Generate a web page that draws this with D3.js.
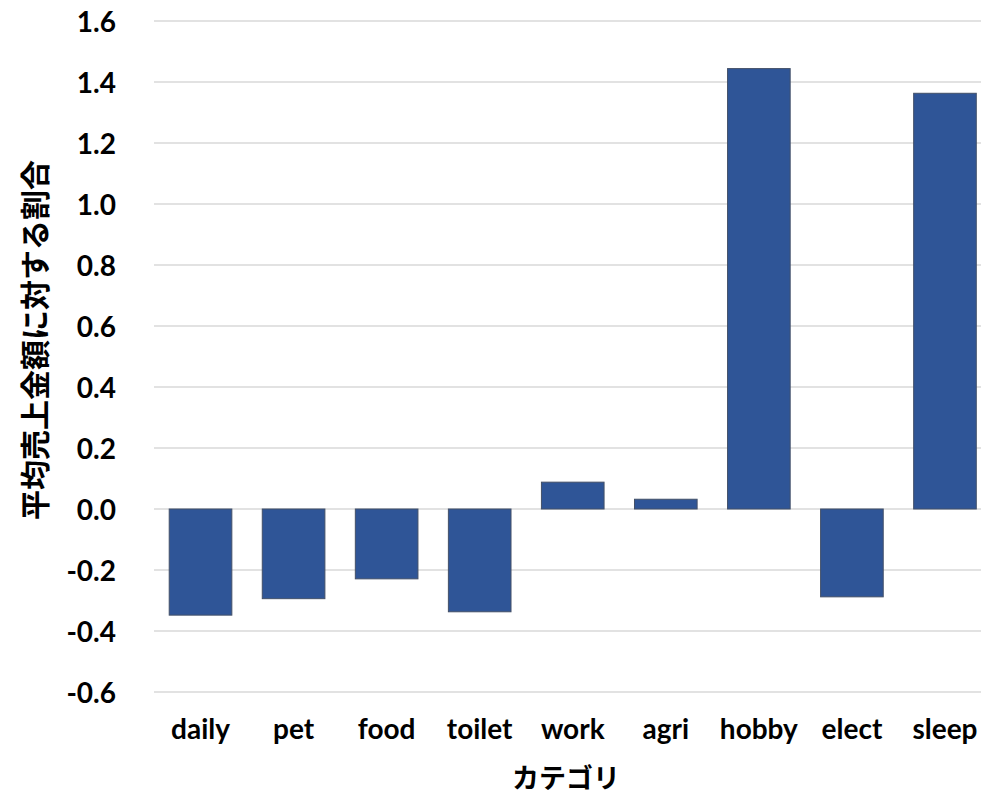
<!DOCTYPE html>
<html>
<head>
<meta charset="utf-8">
<script src="https://cdn.jsdelivr.net/npm/d3@7"></script>
<style>
  body { margin: 0; background: #fff; }
  svg { display: block; }
  .tick-label { font-family: Lato, "Noto Sans", sans-serif; font-weight: bold; font-size: 28px; fill: #000; }
  .axis-title { font-family: "Noto Sans CJK JP", sans-serif; font-weight: bold; font-size: 27px; fill: #000; }
</style>
</head>
<body>
<svg id="chart"></svg>
<script>
// Data
const categories = ['daily', 'pet', 'food', 'toilet', 'work', 'agri', 'hobby', 'elect', 'sleep'];
const values = [-0.348, -0.294, -0.229, -0.337, 0.088, 0.032, 1.444, -0.288, 1.363];
const yTicks = [-0.6, -0.4, -0.2, 0.0, 0.2, 0.4, 0.6, 0.8, 1.0, 1.2, 1.4, 1.6];
const xTitle = 'カテゴリ';
const yTitle = '平均売上金額に対する割合';

const width = 981, height = 796;

const svg = d3.select('#chart')
    .attr('width', width)
    .attr('height', height);

// Scales
const xScale = d3.scaleBand()
    .domain(categories)
    .range([154, 991.5])
    .paddingInner(0.327)
    .paddingOuter(0.1635);

const yScale = d3.scaleLinear()
    .domain([-0.6, 1.6])
    .range([692, 21]);

// Gridlines
svg.append('g')
    .selectAll('line')
    .data(yTicks)
    .join('line')
    .attr('x1', 154)
    .attr('x2', width)
    .attr('y1', d => yScale(d))
    .attr('y2', d => yScale(d))
    .attr('stroke', '#d9d9d9')
    .attr('stroke-width', 1.5);

// Y axis labels (plain hyphen for negatives, like the original)
const yAxis = d3.axisLeft(yScale)
    .tickValues(yTicks)
    .tickFormat(d => d.toFixed(1))
    .tickSize(0)
    .tickPadding(0);

const yAxisGroup = svg.append('g')
    .attr('transform', 'translate(116,0)')
    .call(yAxis);
yAxisGroup.select('.domain').remove();
yAxisGroup.selectAll('text')
    .attr('class', 'tick-label')
    .attr('font-family', null)
    .attr('font-size', null)
    .attr('dy', '0.36em');

// Bars
svg.append('g')
    .selectAll('rect')
    .data(categories.map((c, i) => ({ c, v: values[i] })))
    .join('rect')
    .attr('x', d => xScale(d.c))
    .attr('y', d => yScale(Math.max(0, d.v)))
    .attr('width', xScale.bandwidth())
    .attr('height', d => Math.abs(yScale(d.v) - yScale(0)))
    .attr('fill', '#2f5597')
    .attr('stroke', '#435068')
    .attr('stroke-width', 1);

// X axis labels
const xAxis = d3.axisBottom(xScale).tickSize(0).tickPadding(0);
const xAxisGroup = svg.append('g')
    .attr('transform', 'translate(0,719)')
    .call(xAxis);
xAxisGroup.select('.domain').remove();
xAxisGroup.selectAll('text')
    .attr('class', 'tick-label')
    .attr('font-family', null)
    .attr('font-size', null)
    .attr('dy', '0.71em');

// Axis titles
svg.append('text')
    .attr('class', 'axis-title')
    .attr('x', 566)
    .attr('y', 776)
    .attr('text-anchor', 'middle')
    .attr('dominant-baseline', 'central')
    .text(xTitle);

svg.append('text')
    .attr('class', 'axis-title')
    .attr('transform', 'translate(33,340) rotate(-90)')
    .attr('text-anchor', 'middle')
    .attr('dominant-baseline', 'central')
    .style('font-size', '30px')
    .text(yTitle);
</script>
</body>
</html>
